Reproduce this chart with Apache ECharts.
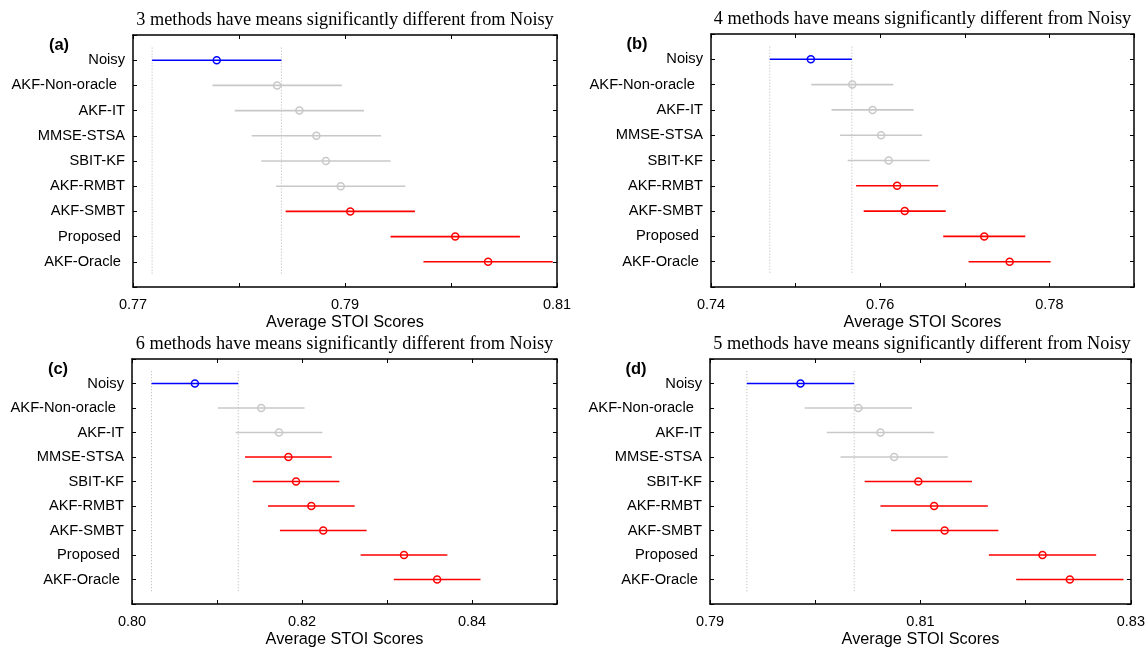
<!DOCTYPE html>
<html>
<head>
<meta charset="utf-8">
<script src="https://cdn.jsdelivr.net/npm/echarts@6/dist/echarts.min.js"></script>
<style>
  html, body { margin: 0; padding: 0; background: #fff; }
  #chart { width: 1148px; height: 650px; }
</style>
</head>
<body>
<div id="chart"></div>
<script>
// Method names, top to bottom (trailing spaces kept as in the figure labels)
const methods = ['Noisy', 'AKF-Non-oracle  ', 'AKF-IT', 'MMSE-STSA', 'SBIT-KF',
                 'AKF-RMBT', 'AKF-SMBT', 'Proposed ', 'AKF-Oracle '];

// Mean STOI per method for each panel, with the comparison-interval half width
const meansA = [0.7779, 0.7836, 0.7857, 0.7873, 0.7882, 0.7896, 0.7905, 0.8004, 0.8035];
const meansB = [0.7518, 0.7567, 0.7591, 0.7601, 0.7610, 0.7620, 0.7629, 0.7723, 0.7753];
const meansC = [0.8074, 0.8152, 0.8173, 0.8184, 0.8193, 0.8211, 0.8225, 0.8320, 0.8359];
const meansD = [0.7986, 0.8041, 0.8062, 0.8075, 0.8098, 0.8113, 0.8123, 0.8216, 0.8242];
const halfWidths = [0.0061, 0.00485, 0.0051, 0.0051];

// x-axis ranges
const xRanges = [[0.77, 0.81], [0.74, 0.79], [0.80, 0.85], [0.79, 0.83]];
const xStep = 0.01;

const panelLetters = ['(a)', '(b)', '(c)', '(d)'];
const titles = [
  '3 methods have means significantly different from Noisy',
  '4 methods have means significantly different from Noisy',
  '6 methods have means significantly different from Noisy',
  '5 methods have means significantly different from Noisy'
];
const xName = 'Average STOI Scores';

const allMeans = [meansA, meansB, meansC, meansD];

// Plot boxes in pixels
const boxes = [
  { left: 133, top: 35, width: 424, height: 252 },
  { left: 711, top: 34, width: 423, height: 253 },
  { left: 132, top: 359, width: 425, height: 245 },
  { left: 710, top: 359, width: 424, height: 245 }
];

const BLUE = '#0000ff', RED = '#ff0000', GRAY = '#c8c8c8';
const SANS = '"Liberation Sans", Arial, Helvetica, sans-serif';
const SERIF = '"Liberation Serif", "Times New Roman", serif';

const grid = [], xAxis = [], yAxis = [], series = [], graphic = [];

boxes.forEach((b, k) => {
  grid.push({ left: b.left, top: b.top, width: b.width, height: b.height, containLabel: false });
  const [xmin, xmax] = xRanges[k];
  const tickCommon = { show: true, inside: true, length: 4, lineStyle: { color: '#000', width: 1 } };
  const lineCommon = { show: true, onZero: false, lineStyle: { color: '#000', width: 1.5 } };
  // bottom axis with labels
  xAxis.push({
    type: 'value', gridIndex: k, position: 'bottom', min: xmin, max: xmax, interval: xStep,
    axisLine: lineCommon, axisTick: tickCommon, splitLine: { show: false },
    axisLabel: {
      color: '#000', fontSize: 14.5, fontFamily: SANS, margin: 10,
      formatter: (v, i) => (i % 2 === 0 ? v.toFixed(2) : '')
    },
    name: xName, nameLocation: 'middle', nameGap: 28,
    nameTextStyle: { color: '#000', fontSize: 16.3, fontFamily: SANS }
  });
  // mirrored top axis (ticks only)
  xAxis.push({
    type: 'value', gridIndex: k, position: 'top', min: xmin, max: xmax, interval: xStep,
    axisLine: lineCommon, axisTick: tickCommon, splitLine: { show: false },
    axisLabel: { show: false }
  });
  // left axis with method names
  yAxis.push({
    type: 'value', gridIndex: k, position: 'left', min: 0, max: 10, interval: 1, inverse: true,
    axisLine: lineCommon, axisTick: tickCommon, splitLine: { show: false },
    axisLabel: {
      color: '#000', fontSize: 14.7, fontFamily: SANS, margin: 8,
      padding: [3, 0, 0, 0],
      formatter: v => methods[v - 1] || ''
    }
  });
  // mirrored right axis
  yAxis.push({
    type: 'value', gridIndex: k, position: 'right', min: 0, max: 10, interval: 1, inverse: true,
    axisLine: lineCommon, axisTick: tickCommon, splitLine: { show: false },
    axisLabel: { show: false }
  });

  const means = allMeans[k];
  const h = halfWidths[k];
  const refLo = means[0] - h, refHi = means[0] + h;

  // dotted reference lines at the Noisy interval bounds
  series.push({
    type: 'custom', xAxisIndex: 2 * k, yAxisIndex: 2 * k, z: 1, silent: true,
    data: [[refLo], [refHi]],
    renderItem: (params, api) => {
      const x = api.value(0);
      const p0 = api.coord([x, 0.5]), p1 = api.coord([x, 9.5]);
      return {
        type: 'line',
        shape: { x1: p0[0], y1: p0[1], x2: p1[0], y2: p1[1] },
        style: { stroke: '#b4b4b4', lineWidth: 1, lineDash: [1, 2] }
      };
    }
  });

  // intervals and means; colour from overlap with the Noisy interval
  const data = means.map((m, i) => {
    let c;
    if (i === 0) c = 0;
    else c = (m - h > refHi || m + h < refLo) ? 1 : 2;
    return [m, i + 1, h, c];
  });
  series.push({
    type: 'custom', xAxisIndex: 2 * k, yAxisIndex: 2 * k, z: 3, silent: true,
    data: data,
    encode: { x: 0, y: 1 },
    renderItem: (params, api) => {
      const m = api.value(0), row = api.value(1), hw = api.value(2);
      const color = [BLUE, RED, GRAY][api.value(3)];
      const p0 = api.coord([m - hw, row]), p1 = api.coord([m + hw, row]), pc = api.coord([m, row]);
      return {
        type: 'group',
        children: [
          { type: 'line', shape: { x1: p0[0], y1: p0[1], x2: p1[0], y2: p1[1] },
            style: { stroke: color, lineWidth: 1.6 } },
          { type: 'circle', shape: { cx: pc[0], cy: pc[1], r: 3.5 },
            style: { fill: 'none', stroke: color, lineWidth: 1.5 } }
        ]
      };
    }
  });

  // panel title and letter
  graphic.push({
    type: 'text', x: b.left + b.width / 2, y: b.top - 15,
    style: { text: titles[k], fill: '#000', font: '18.3px ' + SERIF,
             textAlign: 'center', textVerticalAlign: 'middle' }
  });
  graphic.push({
    type: 'text', x: b.left - 74, y: b.top + 10,
    style: { text: panelLetters[k], fill: '#000', font: 'bold 16.5px ' + SANS,
             textAlign: 'center', textVerticalAlign: 'middle' }
  });
});

const chart = echarts.init(document.getElementById('chart'), null, { renderer: 'canvas' });
chart.setOption({
  animation: false,
  backgroundColor: '#fff',
  grid, xAxis, yAxis, series, graphic
});
</script>
</body>
</html>
